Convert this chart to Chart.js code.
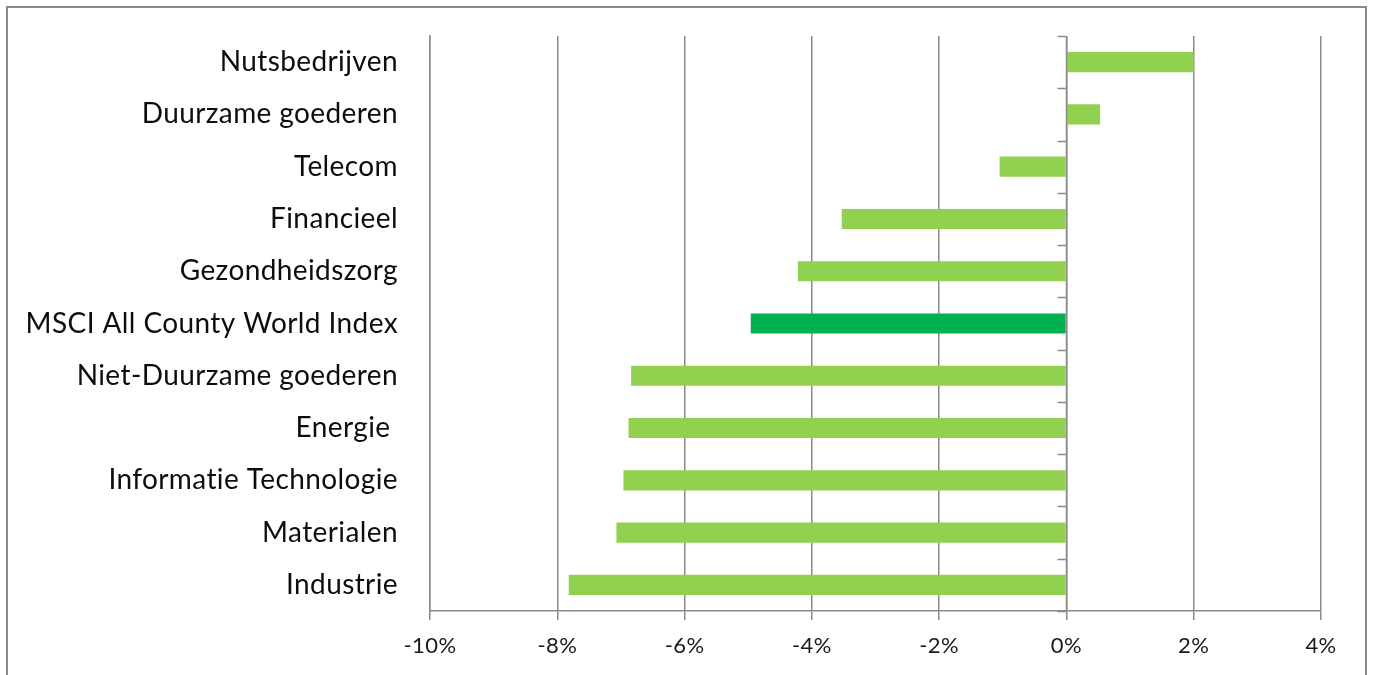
<!DOCTYPE html>
<html>
<head>
<meta charset="utf-8">
<script src="https://cdn.jsdelivr.net/npm/chart.js@4"></script>
<style>
  html, body { margin: 0; padding: 0; background: #fff; overflow: hidden; }
  #wrap { position: relative; width: 1373px; height: 675px; }
  #frame { position: absolute; left: 6px; top: 6px; width: 1357px; height: 700px; border: 2px solid #8a8a8a; pointer-events: none; }
</style>
</head>
<body>
<div id="wrap">
  <canvas id="sectorChart" width="1373" height="675"></canvas>
  <div id="frame"></div>
</div>
<script>
// sector returns, top to bottom
const sectors = [
  "Nutsbedrijven",
  "Duurzame goederen",
  "Telecom",
  "Financieel",
  "Gezondheidszorg",
  "MSCI All County World Index",
  "Niet-Duurzame goederen",
  "Energie ",
  "Informatie Technologie",
  "Materialen",
  "Industrie"
];
const returns = [2.0, 0.53, -1.05, -3.53, -4.22, -4.96, -6.84, -6.88, -6.96, -7.07, -7.82];
const indexName = "MSCI All County World Index";

const xMin = -10, xMax = 4, xStep = 2;

const barColors = sectors.map(s => s === indexName ? '#00b050' : '#92d050');

// a touch of letter spacing keeps Lato from joining "ti"
const textSpacing = {
  id: 'textSpacing',
  beforeInit(chart) { chart.ctx.letterSpacing = '0.4px'; },
  beforeDraw(chart) { chart.ctx.letterSpacing = '0.4px'; }
};

// small tick marks on the zero line between categories
const zeroTicks = {
  id: 'zeroTicks',
  afterDatasetsDraw(chart) {
    const { ctx, scales: { x, y } } = chart;
    const x0 = Math.round(x.getPixelForValue(0)) + 0.5;
    ctx.save();
    ctx.strokeStyle = '#8a8a8a';
    ctx.lineWidth = 1.5;
    ctx.beginPath();
    ctx.moveTo(x0, y.top);
    ctx.lineTo(x0, y.bottom);
    for (let i = 0; i <= sectors.length; i++) {
      const yy = Math.round(y.getPixelForValue(i - 0.5)) + 0.5;
      ctx.moveTo(x0 - 9, yy);
      ctx.lineTo(x0, yy);
    }
    ctx.stroke();
    ctx.restore();
  }
};

new Chart(document.getElementById('sectorChart'), {
  type: 'bar',
  data: {
    labels: sectors,
    datasets: [{
      data: returns,
      backgroundColor: barColors,
      borderWidth: 0,
      barPercentage: 0.385,
      categoryPercentage: 1
    }]
  },
  options: {
    indexAxis: 'y',
    responsive: false,
    animation: false,
    layout: { padding: { left: 0, right: 52, top: 36, bottom: 0 } },
    plugins: { legend: { display: false }, tooltip: { enabled: false } },
    scales: {
      x: {
        min: xMin,
        max: xMax,
        afterFit: s => { s.height = 64; s.paddingLeft = 0; s.paddingRight = 0; },
        grid: { color: '#8a8a8a', lineWidth: 1.5, drawTicks: true, tickLength: 9 },
        border: { color: '#8a8a8a', width: 1.5 },
        ticks: {
          stepSize: xStep,
          padding: 13,
          color: '#1a1a1a',
          font: { family: 'Lato', size: 22 },
          callback: v => `${v}%`
        }
      },
      y: {
        afterFit: s => { s.width = 430; s.paddingTop = 0; s.paddingBottom = 0; },
        grid: { display: false },
        border: { color: '#8a8a8a', width: 1.5 },
        ticks: {
          padding: 24,
          color: '#0d0d0d',
          font: { family: 'Lato', size: 28 }
        }
      }
    }
  },
  plugins: [textSpacing, zeroTicks]
});
</script>
</body>
</html>
